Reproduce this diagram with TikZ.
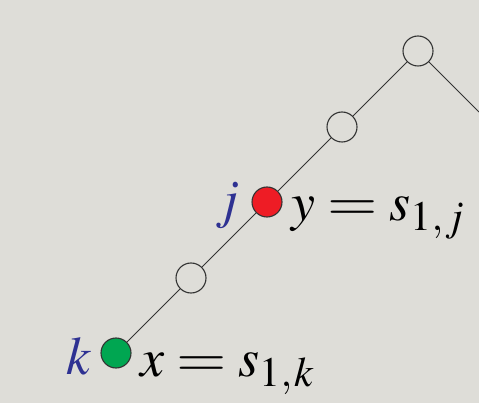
\documentclass[tikz,border=0pt]{standalone}
\usepackage{mathptmx}
\usepackage{graphicx}
\definecolor{bg}{HTML}{DEDDD8}
\definecolor{linec}{HTML}{333333}
\definecolor{redc}{HTML}{EE1C25}
\definecolor{greenc}{HTML}{00A651}
\definecolor{bluec}{HTML}{2E3192}
\newcommand{\mysub}[1]{\hbox{\fontsize{42}{42}\selectfont$#1$}}
\newcommand{\myeq}{\mathrel{\scalebox{1.2}[1]{$=$}}}
\begin{document}
\begin{tikzpicture}[x=1pt,y=-1pt,
  vtx/.style={circle,draw=linec,line width=1.1pt,minimum size=30pt,inner sep=0pt,fill=bg},
  edge/.style={draw=linec,line width=0.9pt},
  lbl/.style={font=\fontsize{54}{60}\selectfont, inner sep=0pt}]
\fill[bg] (0,0) rectangle (479,403);
\useasboundingbox (0,0) rectangle (479,403);
\node[vtx] (n4) at (418,51) {};
\node[vtx] (n3) at (342,127) {};
\node[vtx,fill=redc] (nj) at (267,202) {};
\node[vtx] (n1) at (191,278) {};
\node[vtx,fill=greenc] (nk) at (116,353) {};
\coordinate (r) at (479,112);
\draw[edge] (nk) -- (n1);
\draw[edge] (n1) -- (nj);
\draw[edge] (nj) -- (n3);
\draw[edge] (n3) -- (n4);
\draw[edge] (n4) -- (r);
\node[lbl, anchor=base west] (ex) at (140,376) {$x \myeq s_{\mysub{1{,}\mkern1mu k}}$};
\node[lbl, anchor=base west] (ey) at (291,221) {$y \myeq s_{\mysub{1{,}\mkern1mu j}}$};
\node[lbl, anchor=base east, text=bluec] (lk) at (92,374) {$k$};
\node[lbl, anchor=base east, text=bluec] (lj) at (240,218) {$j$};
\end{tikzpicture}
\end{document}
